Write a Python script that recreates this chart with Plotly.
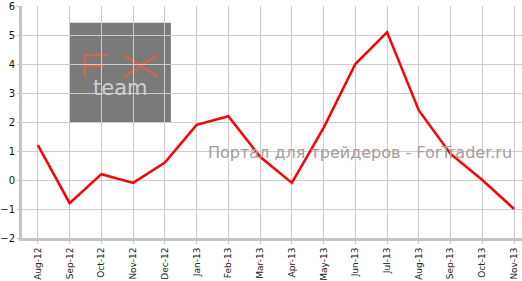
import plotly.graph_objects as go

months = ["Aug-12", "Sep-12", "Oct-12", "Nov-12", "Dec-12", "Jan-13", "Feb-13", "Mar-13",
          "Apr-13", "May-13", "Jun-13", "Jul-13", "Aug-13", "Sep-13", "Oct-13", "Nov-13"]
values = [1.2, -0.8, 0.2, -0.1, 0.6, 1.9, 2.2, 0.8, -0.1, 1.8, 4.0, 5.1, 2.4, 0.9, 0.0, -1.0]
y_ticks = [-2, -1, 0, 1, 2, 3, 4, 5, 6]

fig = go.Figure()
fig.add_trace(go.Scatter(x=list(range(len(months))), y=values, mode="lines",
                         line=dict(color="#ff0000", width=2.5), hoverinfo="skip"))

# logo box (decoration)
fig.add_shape(type="rect", x0=1.01, x1=4.19, y0=2.0, y1=5.42, xref="x", yref="y",
              fillcolor="#7a7a7a", line=dict(width=0), layer="below")
logo_red = dict(color="#d2664f", width=2.5)
for (x0, y0, x1, y1) in [(1.48, 4.31, 1.48, 3.56), (1.48, 4.31, 2.21, 4.31), (1.48, 3.93, 2.08, 3.93),
                         (2.71, 4.31, 3.78, 3.56), (3.78, 4.31, 2.71, 3.56)]:
    fig.add_shape(type="line", x0=x0, y0=y0, x1=x1, y1=y1, xref="x", yref="y",
                  line=logo_red, layer="below")
fig.add_annotation(x=2.6, y=3.18, xref="x", yref="y", text="team", showarrow=False,
                   font=dict(family="DejaVu Sans", size=21, color="#cfcfcf"))

# watermark
fig.add_annotation(x=10.15, y=0.95, xref="x", yref="y", text="Портал для трейдеров - ForTrader.ru",
                   showarrow=False, font=dict(family="DejaVu Sans", size=16, color="#a89c9c"))

fig.update_layout(
    width=522, height=281,
    margin=dict(l=22, r=0, t=6, b=43),
    paper_bgcolor="white", plot_bgcolor="white",
    showlegend=False,
)
fig.update_xaxes(
    range=[-0.5, 15.25], tickmode="array", tickvals=list(range(len(months))), ticktext=months,
    tickangle=-90, tickfont=dict(family="DejaVu Sans", size=9, color="#222"),
    showgrid=True, gridcolor="#cccccc", gridwidth=1, automargin=False,
    showline=True, linecolor="#c4c4c4", linewidth=3,
    ticks="outside", ticklen=3, tickcolor="#c4c4c4", zeroline=False,
)
fig.update_yaxes(
    range=[-2, 6.0], tickmode="array", tickvals=y_ticks, ticklabeloverflow="allow",
    tickfont=dict(family="DejaVu Sans", size=10, color="#111"),
    showgrid=True, gridcolor="#cccccc", gridwidth=1, automargin=False,
    showline=True, linecolor="#c4c4c4", linewidth=3,
    ticks="outside", ticklen=2, tickcolor="#c4c4c4", zeroline=False,
)

fig.write_html("out.html")
